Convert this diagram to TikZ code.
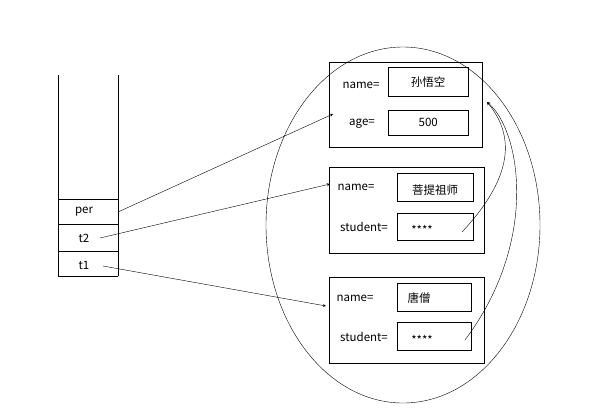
\documentclass[tikz,border=0pt]{standalone}
\usepackage{fontspec}
\usetikzlibrary{shapes.geometric}
\setmainfont{Noto Sans CJK SC}
\begin{document}
\begin{tikzpicture}[x=1pt,y=-1pt,font=\fontsize{11.5}{13}\selectfont,
 bx/.style={draw,inner sep=0,anchor=north west},
 lb/.style={inner sep=0},
 ar/.style={->,>=stealth}]
\useasboundingbox (0,0) rectangle (615,410);
\draw (58,75) -- (58,276) (118,75) -- (118,276);
\draw (58,199) -- (118,199) (58,224) -- (118,224) (58,251) -- (118,251) (58,276) -- (118,276);
\node[lb] (per) at (84,212) {per};
\node[lb] (t2) at (84,238) {t2};
\node[lb] (t1) at (84,265) {t1};
\coordinate (perE) at (118,212);
\coordinate (t2E) at (100,238);
\coordinate (t1E) at (103,266);
\node[draw,ellipse,minimum width=274,minimum height=356] (ell) at (403,225) {};
% box1
\node[bx,minimum width=153,minimum height=85] (b1) at (329,62) {};
\node[bx,minimum width=80,minimum height=29] (b1n) at (388,67) {};
\node[lb] at (b1n) {孙悟空};
\node[bx,minimum width=80,minimum height=25] (b1a) at (388,110) {};
\node[lb] at (b1a) {500};
\node[lb] at (361,85) {name=};
\node[lb] at (362,124) {age=};
% box2
\node[bx,minimum width=155,minimum height=86] (b2) at (329,167) {};
\node[bx,minimum width=76,minimum height=28] (b2n) at (397,173) {};
\node[lb] at (435,190) {菩提祖师};
\node[bx,minimum width=76,minimum height=27] (b2s) at (397,213) {};
\node[lb] at (422,230) {****};
\node[lb] at (356,187) {name=};
\node[lb] at (364,227) {student=};
% box3
\node[bx,minimum width=155,minimum height=86] (b3) at (329,277) {};
\node[bx,minimum width=74,minimum height=28] (b3n) at (397,283) {};
\node[lb] at (419,298) {唐僧};
\node[bx,minimum width=74,minimum height=28] (b3s) at (397,322) {};
\node[lb] at (422,340) {****};
\node[lb] at (355,298) {name=};
\node[lb] at (364,337) {student=};
% arrows
\coordinate (a1) at (333,114);
\coordinate (a2) at (330,184);
\coordinate (a3) at (326,306);
\coordinate (top) at (487,102);
\coordinate (s2) at (462,232);
\coordinate (s3) at (465,340);
\draw[ar] (perE) -- (a1);
\draw[ar] (t2E) -- (a2);
\draw[ar] (t1E) -- (a3);
\draw[ar] (s2) .. controls (520,170) and (510,130) .. (top);
\draw[ar] (s3) .. controls (540,240) and (520,130) .. (top);
\end{tikzpicture}
\end{document}
